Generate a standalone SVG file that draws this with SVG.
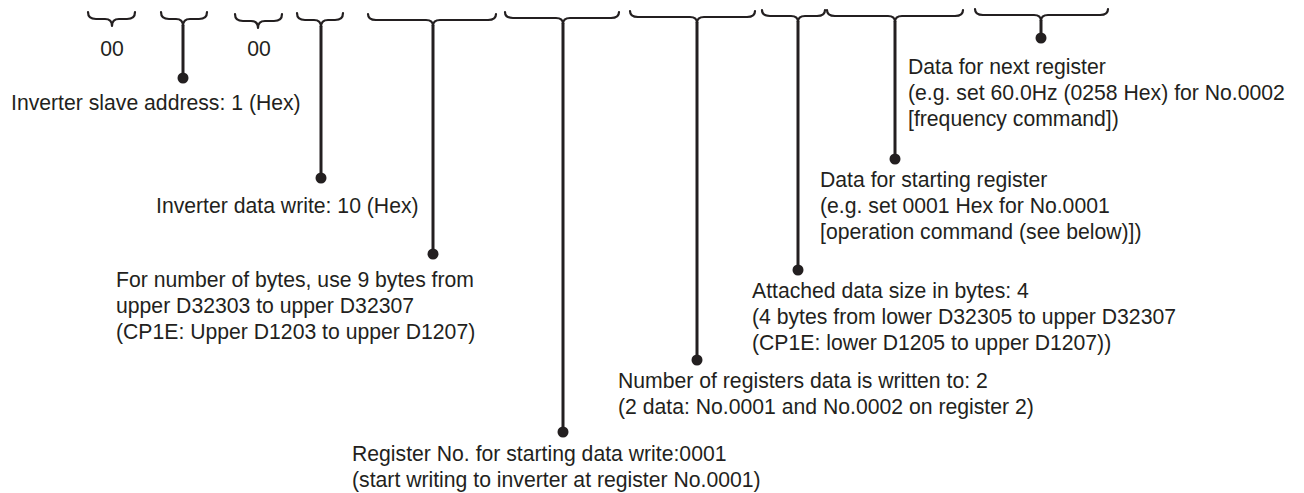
<svg xmlns="http://www.w3.org/2000/svg" width="1304" height="493" viewBox="0 0 1304 493">
  <style>
    text { font-family: "Liberation Sans", Arial, sans-serif; font-size: 21.2px; fill: #231f20; }
    .brace { fill: none; stroke: #231f20; stroke-width: 2.2; stroke-linecap: round; stroke-linejoin: round; }
    .lead { fill: none; stroke: #231f20; stroke-width: 3; }
    .dot { fill: #231f20; }
  </style>
  <rect width="1304" height="493" fill="#ffffff"/>

  <g id="braces">
    <path class="brace" d="M88,12 Q88,19 96,19 L105,19 Q112,19 112,26 Q112,19 119,19 L127,19 Q135,19 135,12"/>
    <path class="brace" d="M161,12 Q161,19 169,19 L176,19 Q183,19 183,26 Q183,19 190,19 L199,19 Q207,19 207,12"/>
    <path class="brace" d="M235,14 Q235,21 243,21 L251,21 Q258,21 258,28 Q258,21 265,21 L274,21 Q282,21 282,14"/>
    <path class="brace" d="M297,13 Q297,20 305,20 L314,20 Q321,20 321,27 Q321,20 328,20 L335,20 Q343,20 343,13"/>
    <path class="brace" d="M368,14 Q368,20 376,20 L426,20 Q433,20 433,26 Q433,20 440,20 L488,20 Q496,20 496,14"/>
    <path class="brace" d="M505,12 Q505,18 513,18 L556,18 Q563,18 563,24 Q563,18 570,18 L611,18 Q619,18 619,12"/>
    <path class="brace" d="M630,11 Q630,17 638,17 L690,17 Q697,17 697,23 Q697,17 704,17 L747,17 Q755,17 755,11"/>
    <path class="brace" d="M762,10 Q762,16 770,16 L791,16 Q798,16 798,22 Q798,16 805,16 L817,16 Q825,16 825,10"/>
    <path class="brace" d="M827,10 Q827,16 835,16 L888,16 Q895,16 895,22 Q895,16 902,16 L955,16 Q963,16 963,10"/>
    <path class="brace" d="M975,9 Q975,15 983,15 L1034,15 Q1041,15 1041,21 Q1041,15 1048,15 L1100,15 Q1108,15 1108,9"/>
  </g>

  <g id="connectors">
    <line class="lead" x1="183" y1="25" x2="183" y2="78"/>
    <circle class="dot" cx="183" cy="78" r="5.5"/>
    <line class="lead" x1="321" y1="26" x2="321" y2="178"/>
    <circle class="dot" cx="321" cy="178" r="5.5"/>
    <line class="lead" x1="433" y1="25" x2="433" y2="254"/>
    <circle class="dot" cx="433" cy="254" r="5.5"/>
    <line class="lead" x1="563" y1="23" x2="563" y2="432"/>
    <circle class="dot" cx="563" cy="432" r="5.5"/>
    <line class="lead" x1="697" y1="22" x2="697" y2="360"/>
    <circle class="dot" cx="697" cy="360" r="5.5"/>
    <line class="lead" x1="798" y1="21" x2="798" y2="270"/>
    <circle class="dot" cx="798" cy="270" r="5.5"/>
    <line class="lead" x1="895" y1="21" x2="895" y2="159"/>
    <circle class="dot" cx="895" cy="159" r="5.5"/>
    <line class="lead" x1="1041" y1="20" x2="1041" y2="38"/>
    <circle class="dot" cx="1041" cy="38" r="5.5"/>
  </g>

  <g id="label-00-a"><text x="112" y="56" text-anchor="middle">00</text></g>
  <g id="label-00-b"><text x="259" y="56" text-anchor="middle">00</text></g>

  <g id="node-slave-address">
    <text x="11" y="110">Inverter slave address: 1 (Hex)</text>
  </g>
  <g id="node-data-write">
    <text x="156" y="213">Inverter data write: 10 (Hex)</text>
  </g>
  <g id="node-bytes">
    <text x="116" y="287">For number of bytes, use 9 bytes from</text>
    <text x="116" y="313">upper D32303 to upper D32307</text>
    <text x="116" y="339">(CP1E: Upper D1203 to upper D1207)</text>
  </g>
  <g id="node-start-register">
    <text x="352" y="461">Register No. for starting data write:0001</text>
    <text x="352" y="487">(start writing to inverter at register No.0001)</text>
  </g>
  <g id="node-num-registers">
    <text x="618" y="388">Number of registers data is written to: 2</text>
    <text x="618" y="414">(2 data: No.0001 and No.0002 on register 2)</text>
  </g>
  <g id="node-attached-size">
    <text x="752" y="298">Attached data size in bytes: 4</text>
    <text x="752" y="324">(4 bytes from lower D32305 to upper D32307</text>
    <text x="752" y="350">(CP1E: lower D1205 to upper D1207))</text>
  </g>
  <g id="node-data-start">
    <text x="820" y="187">Data for starting register</text>
    <text x="820" y="213">(e.g. set 0001 Hex for No.0001</text>
    <text x="820" y="239">[operation command (see below)])</text>
  </g>
  <g id="node-data-next">
    <text x="908" y="74">Data for next register</text>
    <text x="908" y="100">(e.g. set 60.0Hz (0258 Hex) for No.0002</text>
    <text x="908" y="126">[frequency command])</text>
  </g>
</svg>
